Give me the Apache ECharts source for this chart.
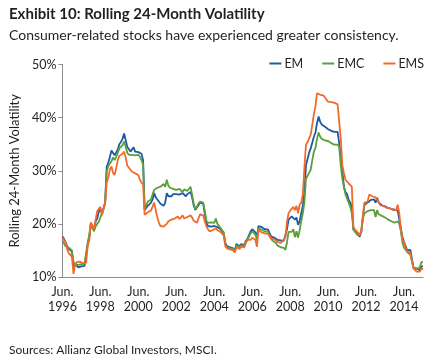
<!DOCTYPE html>
<html><head><meta charset="utf-8">
<script src="https://cdn.jsdelivr.net/npm/echarts@6/dist/echarts.min.js"></script>
<style>html,body{margin:0;padding:0;background:#fff}#c{width:434px;height:357px}</style>
</head><body><div id="c"></div>
<script>
// Monthly, Jun 1996 .. Jun 2015
const monthNames = ['Jun.','Jul.','Aug.','Sep.','Oct.','Nov.','Dec.','Jan.','Feb.','Mar.','Apr.','May.'];
const categories = [];
for (let i = 0; i < 229; i++) {
  const y = 1996 + Math.floor((i + 5) / 12);
  categories.push(monthNames[i % 12] + '\n' + y);
}
const EM = [
17.6,17.2,16.5,15.8,15.3,15.1,14.8,12.1,11.9,12.2,11.8,11.6,
12.0,11.7,12.1,11.9,16.2,17.5,20.0,19.6,18.8,20.5,21.0,22.3,
22.8,21.8,23.0,24.0,30.8,31.5,32.6,33.8,33.5,32.9,33.2,34.0,
35.0,35.4,36.0,37.0,35.8,34.5,34.2,33.6,33.8,34.4,33.6,33.7,
33.5,33.3,33.2,32.0,22.6,22.9,23.4,23.2,24.0,24.6,25.8,25.0,
24.8,24.2,23.8,23.6,23.4,24.0,25.8,25.2,25.0,25.2,25.6,25.4,
25.6,25.3,25.5,25.4,25.8,25.5,25.2,25.6,25.5,26.0,25.0,23.5,
22.6,22.8,23.5,24.0,24.2,23.8,22.0,20.2,19.6,19.4,19.5,19.8,
19.6,19.8,19.4,19.5,19.0,18.6,18.2,16.4,15.8,16.0,15.6,15.8,
15.4,14.9,16.2,16.0,15.8,16.2,15.9,16.0,16.8,17.2,17.0,18.6,
19.0,18.8,18.4,17.5,19.6,19.5,19.4,19.2,19.0,19.3,18.9,18.8,
17.6,17.3,17.4,17.2,17.0,17.1,16.9,16.6,16.8,16.5,19.0,20.8,
21.0,21.4,21.5,20.8,21.2,19.8,20.5,22.0,23.4,26.0,31.0,32.2,
33.4,34.2,35.3,36.4,37.2,39.0,40.2,39.2,38.7,39.0,38.3,38.5,
37.8,37.6,37.5,37.4,37.3,37.2,37.3,37.0,33.0,30.0,27.0,26.0,
25.6,24.5,24.0,23.2,18.9,18.6,18.4,18.0,17.6,18.6,21.3,23.6,
23.8,24.0,24.2,24.5,24.4,24.6,24.0,24.9,24.0,23.8,23.5,23.6,
23.3,23.2,23.0,23.1,22.8,22.9,22.7,22.6,22.5,22.2,19.2,17.5,
16.6,15.8,15.0,15.3,15.1,15.2,11.7,11.5,11.6,11.4,11.3,12.0,12.0
];
const EMC = [
16.8,16.3,15.8,15.6,15.5,15.3,15.0,12.8,12.4,12.6,12.3,12.5,
12.4,12.2,12.5,12.3,16.5,18.0,20.2,19.2,18.6,19.5,20.0,20.4,
21.2,21.5,22.8,24.0,29.8,30.9,31.2,31.8,32.5,32.0,32.6,33.4,
34.2,34.0,34.8,35.5,34.5,33.4,33.0,32.8,33.0,33.2,32.9,33.0,
33.0,32.6,32.0,31.2,22.8,23.5,24.2,24.0,24.6,25.5,26.4,26.7,
26.8,26.5,27.0,27.2,27.5,27.0,28.3,27.2,26.8,27.0,26.6,26.8,
26.4,26.2,26.6,26.3,26.0,26.5,26.8,26.2,26.5,27.0,25.5,23.8,
22.8,23.2,23.8,24.2,24.4,24.0,22.5,20.6,20.2,20.0,20.3,20.5,
20.2,21.0,20.0,19.8,19.2,18.8,18.4,16.2,15.6,15.8,15.4,15.6,
15.3,14.8,16.0,15.8,15.6,16.0,15.7,15.8,16.6,17.0,16.8,18.2,
18.6,18.5,18.0,17.0,19.2,19.0,18.9,18.7,18.6,18.8,18.5,18.3,
17.2,16.8,16.6,16.4,15.9,15.7,15.6,15.3,15.5,15.1,16.5,18.5,
18.8,18.5,19.0,17.5,18.6,17.4,18.8,20.5,22.0,24.0,28.5,28.7,
29.6,30.2,32.0,33.6,34.3,36.0,37.2,36.4,36.0,36.2,35.7,35.9,
35.6,35.3,35.2,35.1,34.9,34.8,34.9,34.5,31.0,28.5,27.0,25.5,
25.8,24.0,23.2,22.0,19.0,18.5,18.2,17.8,17.5,18.4,21.0,22.0,
22.3,22.4,22.5,22.6,22.4,22.6,21.3,22.6,21.8,21.6,21.5,21.4,
21.2,21.0,20.8,20.7,20.5,20.4,20.2,20.3,20.5,20.0,18.6,16.5,
15.5,15.2,14.7,14.8,14.2,14.3,11.8,11.6,11.5,11.4,11.8,12.8,12.8
];
const EMS = [
17.4,17.0,16.5,15.2,14.5,14.2,13.8,10.6,12.3,12.8,12.6,12.9,
12.8,12.6,12.9,12.7,15.8,17.0,20.3,20.4,19.0,20.8,22.4,22.6,
23.2,21.6,22.8,23.8,27.8,28.7,30.2,30.8,29.6,29.2,30.5,32.0,
32.8,33.0,33.2,33.6,32.5,31.0,30.8,30.2,29.8,29.7,29.5,29.6,
29.2,28.3,27.8,27.4,21.7,22.0,22.2,21.9,22.5,23.2,24.0,22.6,
21.3,20.2,19.6,19.4,19.5,19.6,20.0,20.5,20.4,20.8,20.6,21.0,
21.0,21.4,20.9,21.2,21.6,21.0,20.8,21.3,21.0,21.6,21.2,20.6,
20.4,20.2,21.0,21.8,22.0,21.6,20.5,19.6,19.0,18.6,18.6,18.8,
18.6,19.2,18.8,18.9,18.5,18.2,17.8,15.8,15.4,15.6,15.2,15.3,
15.0,14.6,15.6,15.4,15.3,15.7,15.5,15.6,16.4,17.0,16.8,17.0,
17.4,17.2,17.0,15.7,18.9,18.6,18.4,18.5,18.2,18.4,18.1,18.0,
17.2,17.0,17.1,16.8,16.6,16.8,16.4,16.6,17.0,17.5,20.4,22.0,
22.5,22.8,23.2,22.6,23.4,22.0,23.6,24.0,25.5,30.5,34.9,35.4,
35.5,36.8,38.7,40.6,42.1,44.6,44.9,44.3,44.5,44.2,43.8,43.5,
43.0,42.8,42.9,42.7,42.8,42.6,42.5,42.3,36.0,31.0,29.6,28.3,
28.0,27.6,27.4,27.0,19.5,18.9,18.6,18.3,17.8,18.8,21.6,24.0,
24.3,24.2,25.5,25.4,25.2,25.3,25.0,24.6,24.0,23.5,23.6,23.4,
23.2,23.0,22.8,23.0,22.7,22.6,22.5,22.6,23.6,22.0,19.0,17.0,
16.6,15.5,14.8,14.6,14.5,14.6,11.6,11.3,11.0,11.2,11.0,11.6,11.5
];
const yTicks = [10, 20, 30, 40, 50];

const FONT = 'Lato, "Noto Sans", sans-serif';
const chart = echarts.init(document.getElementById('c'), null, {renderer: 'canvas'});
const mk = (name, data, color) => ({
  name, type: 'line', data, symbol: 'none', smooth: false,
  lineStyle: {color, width: 1.8}, itemStyle: {color}
});
chart.setOption({
  animation: false,
  backgroundColor: '#fff',
  textStyle: {fontFamily: FONT},
  title: [
    {text: 'Exhibit 10: Rolling 24-Month Volatility', left: 4, top: 2,
     textStyle: {fontFamily: FONT, fontSize: 15, fontWeight: 'bold', color: '#231f20'}},
    {text: 'Consumer-related stocks have experienced greater consistency.', left: 4, top: 23,
     textStyle: {fontFamily: FONT, fontSize: 14, fontWeight: 'normal', color: '#231f20'}},
    {text: 'Sources: Allianz Global Investors, MSCI.', left: 4, top: 339,
     textStyle: {fontFamily: FONT, fontSize: 12, fontWeight: 'normal', color: '#231f20'}}
  ],
  legend: {
    right: 5, top: 52, itemWidth: 12, itemHeight: 2, itemGap: 19,
    icon: 'rect',
    textStyle: {fontFamily: FONT, fontSize: 12.5, color: '#231f20', padding: [0,0,0,-2]},
    data: ['EM', 'EMC', 'EMS']
  },
  grid: {left: 55, right: 11, top: 64.5, bottom: 80, containLabel: false},
  xAxis: {
    type: 'category', data: categories, boundaryGap: false,
    axisLine: {lineStyle: {color: '#8c8c8c', width: 1}},
    axisTick: {show: false},
    axisLabel: {
      interval: (i) => i % 24 === 0, fontFamily: FONT, fontSize: 12.5, color: '#231f20',
      lineHeight: 15, margin: 7
    },
    splitLine: {show: false}
  },
  yAxis: {
    type: 'value', min: 10, max: 50, interval: 10,
    name: 'Rolling 24-Month Volatility', nameLocation: 'middle', nameGap: 36,
    nameTextStyle: {fontFamily: FONT, fontSize: 13, color: '#231f20'},
    axisLine: {show: true, lineStyle: {color: '#8c8c8c', width: 1}},
    axisTick: {show: true, length: 4, lineStyle: {color: '#8c8c8c'}},
    axisLabel: {formatter: (v) => yTicks.includes(v) ? v + '%' : '', fontFamily: FONT, fontSize: 12.5, color: '#231f20', margin: 6},
    splitLine: {show: false}
  },
  series: [mk('EM', EM, '#1d5aa5'), mk('EMC', EMC, '#5b9e3a'), mk('EMS', EMS, '#f26a2b')]
});
</script></body></html>
